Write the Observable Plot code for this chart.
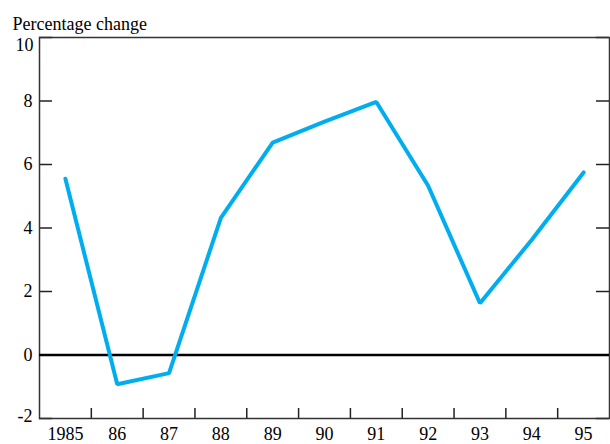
<!DOCTYPE html>
<html>
<head>
<meta charset="utf-8">
<script src="https://cdn.jsdelivr.net/npm/d3@7"></script>
<script src="https://cdn.jsdelivr.net/npm/@observablehq/plot@0.6"></script>
<style>
  html, body { margin: 0; padding: 0; background: #fff; }
  #chart svg { display: block; }
  #chart svg text { font-family: 'Liberation Serif', 'Times New Roman', serif !important; }
</style>
</head>
<body>
<div id="chart"></div>
<script>
const title = "Percentage change";
const years = [1985, 1986, 1987, 1988, 1989, 1990, 1991, 1992, 1993, 1994, 1995];
const values = [5.55, -0.92, -0.57, 4.32, 6.69, 7.35, 7.97, 5.33, 1.63, 3.63, 5.75];
const yTicks = [-2, 0, 2, 4, 6, 8, 10];
const xTickLabels = ["1985", "86", "87", "88", "89", "90", "91", "92", "93", "94", "95"];
const xBoundaries = years.slice(0, -1).map(y => y + 0.5);

const data = years.map((year, i) => ({year, value: values[i]}));
const W = 610, H = 444;
const mL = 39, mR = 1, mT = 37, mB = 26;
const innerW = W - mL - mR, innerH = H - mT - mB;
const font = "'Liberation Serif', 'Times New Roman', serif";
const fmt = d => String(d);
const yMid = yTicks.slice(1, -1);

const chart = Plot.plot({
  width: W,
  height: H,
  marginLeft: mL,
  marginRight: mR,
  marginTop: mT,
  marginBottom: mB,
  style: {fontFamily: font, fontSize: "18px", color: "#000", background: "#fff"},
  x: {domain: [years[0] - 0.5, years[years.length - 1] + 0.5]},
  y: {domain: [-2, 10]},
  marks: [
    // inward ticks on left and right
    Plot.tickY(yTicks, {y: d => d, stroke: "#222", strokeWidth: 1.5, insetRight: innerW - 13}),
    Plot.tickY(yTicks, {y: d => d, stroke: "#222", strokeWidth: 1.5, insetLeft: innerW - 13}),
    // x boundary ticks
    Plot.tickX(xBoundaries, {x: d => d, stroke: "#222", strokeWidth: 1.5, insetTop: innerH - 10}),
    Plot.axisY({ticks: yMid, tickSize: 0, tickPadding: 7, tickFormat: fmt, label: null, fontSize: 18, fontFamily: font}),
    Plot.axisY({ticks: [yTicks[yTicks.length - 1]], tickSize: 0, tickPadding: 6, tickFormat: fmt, label: null, fontSize: 18, fontFamily: font, dy: 8}),
    Plot.axisY({ticks: [yTicks[0]], tickSize: 0, tickPadding: 7, tickFormat: fmt, label: null, fontSize: 18, fontFamily: font, dy: -2}),
    Plot.axisX({ticks: years, tickSize: 0, tickPadding: 9, tickFormat: d => xTickLabels[years.indexOf(d)], label: null, fontSize: 18, fontFamily: font}),
    Plot.frame({stroke: "#333", strokeWidth: 1.5}),
    Plot.ruleY([0], {stroke: "#000", strokeWidth: 2.5}),
    Plot.line(data, {x: "year", y: "value", stroke: "#00AEEF", strokeWidth: 4, strokeLinejoin: "miter"}),
    Plot.text([title], {frameAnchor: "top-left", text: d => d, textAnchor: "start", lineAnchor: "bottom", dx: -27, dy: -8, fontSize: 18, fontFamily: font})
  ]
});
document.getElementById("chart").appendChild(chart);
</script>
</body>
</html>
